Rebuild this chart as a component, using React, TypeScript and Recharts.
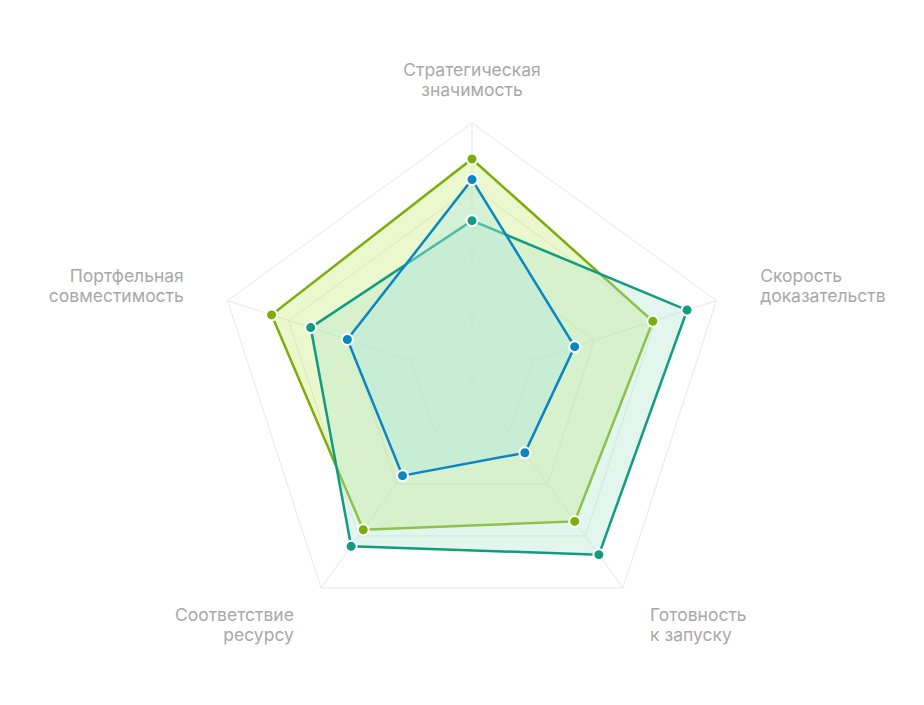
import React from "react";
import { RadarChart, Radar, PolarGrid, PolarAngleAxis, PolarRadiusAxis } from "recharts";

// axes go clockwise from the top
const criteria = [
  "Стратегическая\nзначимость",
  "Скорость\nдоказательств",
  "Готовность\nк запуску",
  "Соответствие\nресурсу",
  "Портфельная\nсовместимость",
];

const limeScores = [86, 74, 68, 72, 82];
const tealScores = [62, 88, 84, 80, 66];
const blueScores = [78, 42, 35, 46, 51];

const radiusTicks = [0, 25, 50, 75, 100];

const data = criteria.map((name, i) => ({
  name,
  lime: limeScores[i],
  teal: tealScores[i],
  blue: blueScores[i],
}));

const W = 908;
const H = 689;
const CX = 464;
const CY = 372;
const R = 257;
const LABEL_GAP = 46;
const LINE_H = 20;

const AngleTick = (props: any) => {
  const { payload } = props;
  const angle = (payload.coordinate * Math.PI) / 180;
  const cos = Math.cos(angle);
  const sin = -Math.sin(angle);
  const x = CX + cos * (R + LABEL_GAP);
  const y = CY + sin * (R + LABEL_GAP);
  const anchor = Math.abs(cos) < 0.1 ? "middle" : cos > 0 ? "start" : "end";
  const lines = String(payload.value).split("\n");
  // top label sits a touch lower than the others
  const top = y - ((lines.length - 1) * LINE_H) / 2 + 6 + (anchor === "middle" ? 3 : 0);
  return (
    <text
      x={x}
      y={top}
      textAnchor={anchor}
      fill="#a8a8a8"
      fontSize={17.5}
      fontFamily="Inter, 'Noto Sans', sans-serif"
    >
      {lines.map((l, i) => (
        <tspan key={i} x={x} y={top + i * LINE_H}>
          {l}
        </tspan>
      ))}
    </text>
  );
};

const dot = (color: string) => ({ r: 5.5, fill: color, fillOpacity: 1, stroke: "#fff", strokeWidth: 2 });

export default function App() {
  return (
    <div style={{ width: W, height: H, background: "#fff" }}>
      <RadarChart width={W} height={H} data={data} cx={CX} cy={CY} outerRadius={R}>
        <PolarGrid stroke="#e8e8e8" strokeWidth={1} />
        <PolarAngleAxis dataKey="name" tick={AngleTick} tickLine={false} axisLine={false} />
        <PolarRadiusAxis domain={[0, 100]} ticks={radiusTicks as any} tickCount={5} tick={false} axisLine={false} />
        <Radar
          dataKey="lime"
          stroke="#7cae0b"
          strokeWidth={2.5}
          fill="#c2e765"
          fillOpacity={0.32}
          dot={dot("#7cae0b")}
          isAnimationActive={false}
        />
        <Radar
          dataKey="teal"
          stroke="#0f9c81"
          strokeWidth={2.5}
          fill="#aee6cc"
          fillOpacity={0.35}
          dot={dot("#0f9c81")}
          isAnimationActive={false}
        />
        <Radar
          dataKey="blue"
          stroke="#0a86c2"
          strokeWidth={2.5}
          fill="#b2e8e2"
          fillOpacity={0.4}
          dot={dot("#0a86c2")}
          isAnimationActive={false}
        />
      </RadarChart>
    </div>
  );
}
